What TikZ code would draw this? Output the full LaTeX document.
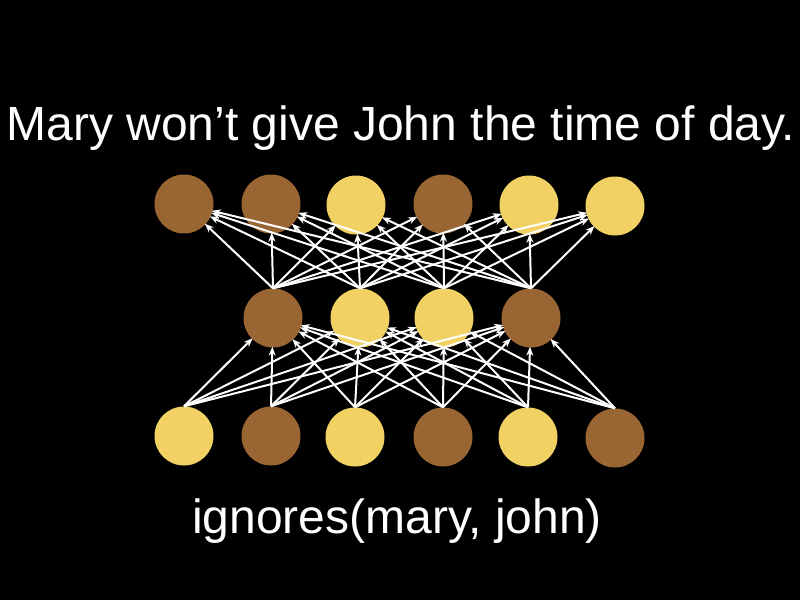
\documentclass[tikz,border=0pt]{standalone}
\usepackage{fontspec}
\setmainfont{Liberation Sans}
\usepackage{tikz}
\usetikzlibrary{arrows.meta}
\definecolor{nutbrown}{RGB}{153,102,51}
\definecolor{sandgold}{RGB}{241,209,99}
\tikzset{
	unit/.style={circle, minimum size=59pt, inner sep=0pt},
	darkunit/.style={unit, fill=nutbrown},
	lightunit/.style={unit, fill=sandgold},
	link/.style={white, line width=2pt, -{Stealth[length=9pt,width=7pt]}, shorten >=-1pt},
	bigtext/.style={white, font=\fontsize{48}{57}\selectfont}
}

\begin{document}
\begin{tikzpicture}[x=1pt, y=-1pt]
			%%%%% START %%%%%
			
			\fill[black] (0, 0) rectangle (800, 600);
			\useasboundingbox (0, 0) rectangle (800, 600);
			
			\node[bigtext, anchor=base] (sentence) at (401, 140) {Mary won’t give John the time of day.};
			\node[bigtext, anchor=base] (logic) at (397, 533) {ignores(mary, john)};
			
			% top layer
			\node[darkunit] (t1) at (184, 204) {};
			\node[darkunit] (t2) at (271, 204) {};
			\node[lightunit] (t3) at (356, 205) {};
			\node[darkunit] (t4) at (443, 204) {};
			\node[lightunit] (t5) at (529, 205) {};
			\node[lightunit] (t6) at (615, 206) {};
			
			% hidden layer
			\node[darkunit] (m1) at (273, 318) {};
			\node[lightunit] (m2) at (360, 318) {};
			\node[lightunit] (m3) at (444, 318) {};
			\node[darkunit] (m4) at (531, 318) {};
			
			% bottom layer
			\node[lightunit] (b1) at (184, 436) {};
			\node[darkunit] (b2) at (271, 436) {};
			\node[lightunit] (b3) at (355, 437) {};
			\node[darkunit] (b4) at (443, 437) {};
			\node[lightunit] (b5) at (528, 437) {};
			\node[darkunit] (b6) at (615, 438) {};
			
			\foreach \i in {1,...,6}
				\foreach \j in {1,...,4}
					\draw[link] (b\i.north) -- (m\j);
			
			\foreach \j in {1,...,4}
				\foreach \k in {1,...,6}
					\draw[link] (m\j.north) -- (t\k);
			
			%%%%% END %%%%%
\end{tikzpicture}
\end{document}
